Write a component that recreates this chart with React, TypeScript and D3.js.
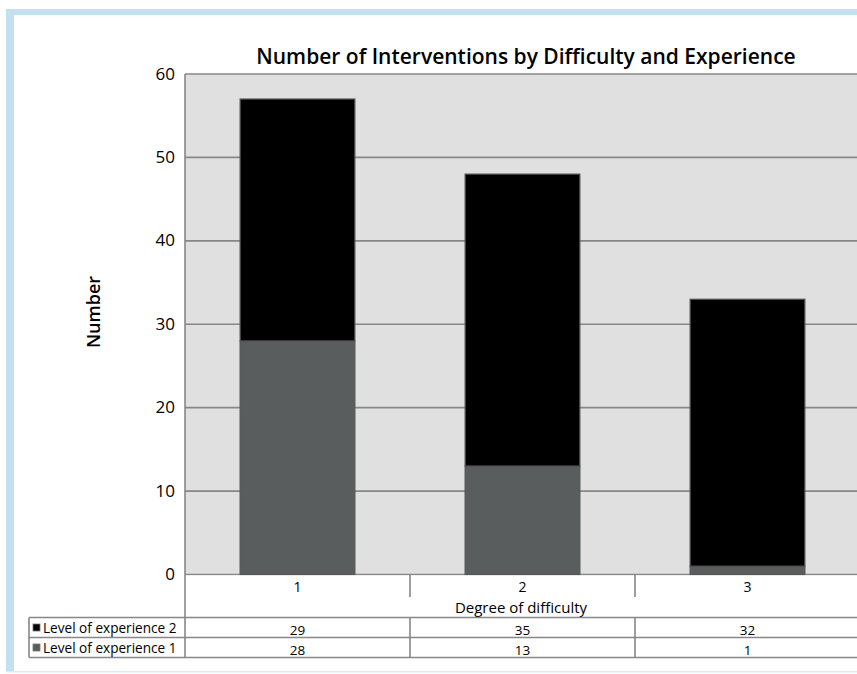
import React from "react";
import * as d3 from "d3";

const categories = ["1", "2", "3"];
const level1 = [28, 13, 1];
const level2 = [29, 35, 32];
const seriesNames = ["Level of experience 2", "Level of experience 1"];
const yTicks = [0, 10, 20, 30, 40, 50, 60];
const title = "Number of Interventions by Difficulty and Experience";
const yLabel = "Number";
const xLabel = "Degree of difficulty";

const W = 857;
const H = 674;
const FONT = "'Open Sans', 'Noto Sans', sans-serif";

export default function App() {
  const left = 185;
  const right = 860;
  const top = 74;
  const bottom = 574.5;
  const x = d3
    .scaleBand<string>()
    .domain(categories)
    .range([left, right])
    .paddingInner(0.49)
    .paddingOuter(0.245);
  const y = d3.scaleLinear().domain([0, 60]).range([bottom, top]);
  const step = x.step();
  const stack = d3.stack<any>().keys(["l1", "l2"])(
    categories.map((c, i) => ({ c, l1: level1[i], l2: level2[i] }))
  );
  const colors = ["#5a5d5e", "#000000"];
  const row1Top = 617.5;
  const row2Top = 637.5;
  const row2Bot = 657.5;
  const legendLeft = 29;
  const tableRows = [
    { name: seriesNames[0], vals: level2, color: "#000", top: row1Top },
    { name: seriesNames[1], vals: level1, color: "#5a5d5e", top: row2Top },
  ];
  return (
    <svg
      width={W}
      height={H}
      style={{ position: "absolute", left: 0, top: 0, background: "#fff" }}
      fontFamily={FONT}
    >
      {/* frame */}
      <rect x={6} y={9} width={W - 6} height={6} fill="#c4e0f0" />
      <rect x={6} y={9} width={8} height={663} fill="#c4e0f0" />
      <rect x={6} y={671} width={W - 6} height={1.5} fill="#dcecf5" />

      {/* title */}
      <text x={526} y={63.5} textAnchor="middle" fontSize={21} fontWeight={600} fill="#000">
        {title}
      </text>

      {/* plot background */}
      <rect x={left} y={top} width={W - left} height={bottom - top} fill="#e0e0e0" />
      {yTicks.map((t) => (
        <line key={t} x1={left} x2={W} y1={y(t)} y2={y(t)} stroke="#878787" strokeWidth={1.6} />
      ))}
      <line x1={left} x2={left} y1={top} y2={row2Bot} stroke="#878787" strokeWidth={1.6} />

      {/* bars */}
      {stack.map((s, si) =>
        s.map((d, i) => (
          <rect
            key={si + "-" + i}
            x={x(categories[i])!}
            y={y(d[1])}
            width={x.bandwidth()}
            height={y(d[0]) - y(d[1])}
            fill={colors[si]}
            stroke="#555"
            strokeWidth={1.2}
          />
        ))
      )}

      {/* y tick labels */}
      {yTicks.map((t) => (
        <text key={t} x={175} y={y(t)} dy="0.33em" textAnchor="end" fontSize={17} fill="#000">
          {t}
        </text>
      ))}
      <text
        transform={`translate(100,312) rotate(-90)`}
        textAnchor="middle"
        fontSize={18}
        fontWeight={600}
        fill="#000"
      >
        {yLabel}
      </text>

      {/* category axis */}
      <rect x={left + 1} y={bottom + 1} width={W - left} height={row2Bot - bottom - 1} fill="#fff" />
      {categories.map((c, i) => (
        <g key={c}>
          <text x={x(c)! + x.bandwidth() / 2} y={592} textAnchor="middle" fontSize={14} fill="#000">
            {c}
          </text>
          {i > 0 && (
            <line
              x1={left + step * i}
              x2={left + step * i}
              y1={bottom}
              y2={597}
              stroke="#878787"
              strokeWidth={1.6}
            />
          )}
        </g>
      ))}
      <text x={521} y={612.5} textAnchor="middle" fontSize={15} fill="#000">
        {xLabel}
      </text>

      {/* data table */}
      {[row1Top, row2Top, row2Bot].map((yy, k) => (
        <line key={k} x1={legendLeft} x2={W} y1={yy} y2={yy} stroke="#878787" strokeWidth={1.6} />
      ))}
      <line x1={legendLeft} x2={legendLeft} y1={row1Top} y2={row2Bot} stroke="#878787" strokeWidth={1.6} />
      {categories.map((c, i) =>
        i > 0 ? (
          <line
            key={c}
            x1={left + step * i}
            x2={left + step * i}
            y1={row1Top}
            y2={row2Bot}
            stroke="#878787"
            strokeWidth={1.6}
          />
        ) : null
      )}
      {tableRows.map((r) => (
        <g key={r.name}>
          <rect x={33} y={r.top + 6.5} width={7} height={7} fill={r.color} stroke="#777" strokeWidth={0.8} />
          <text x={43} y={r.top + 15} fontSize={13.6} fill="#000">
            {r.name}
          </text>
          {r.vals.map((v, i) => (
            <text
              key={i}
              x={x(categories[i])! + x.bandwidth() / 2}
              y={r.top + 17.5}
              textAnchor="middle"
              fontSize={13.5}
              fill="#000"
            >
              {v}
            </text>
          ))}
        </g>
      ))}
    </svg>
  );
}
